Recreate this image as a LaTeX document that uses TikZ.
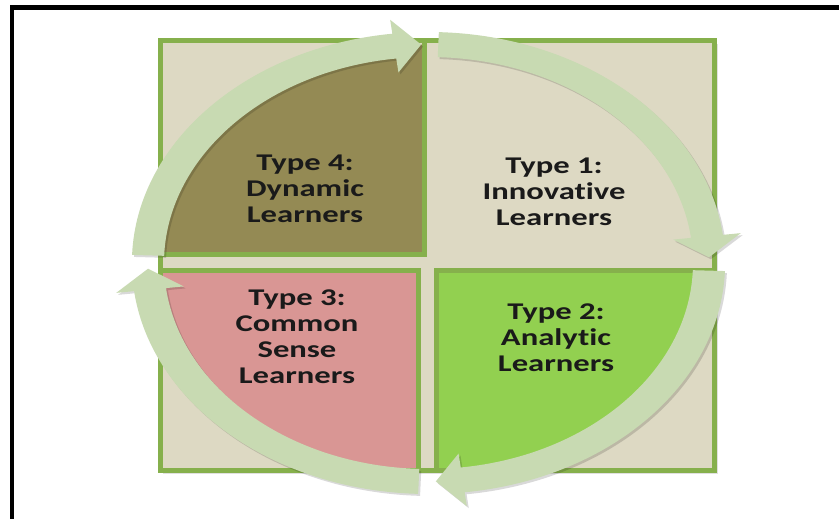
\documentclass[tikz,border=0pt]{standalone}
\usepackage{fontspec}
\setmainfont{Carlito}[Ligatures=NoCommon]
\definecolor{quadline}{HTML}{86B04C}
\definecolor{beigefill}{HTML}{DDD9C3}
\definecolor{olivefill}{HTML}{948A54}
\definecolor{pinkfill}{HTML}{D99694}
\definecolor{greenfill}{HTML}{92D050}
\definecolor{ringfill}{HTML}{C8DAB2}
\definecolor{textdark}{HTML}{1A1A1A}

\begin{document}
\begin{tikzpicture}[x=1pt, y=-1pt,
		quad/.style={draw=quadline, line width=5pt, line join=miter},
		ringarrow/.style={fill=ringfill},
		learner/.style={font=\bfseries\fontsize{24}{26}\selectfont, align=center, text=textdark, inner sep=0pt, xscale=1.36, transform shape}]
		\useasboundingbox (0, 0) rectangle (839, 519);
		\fill[white] (0, 0) rectangle (839, 519);
		\draw[line width=4.5pt] (12, 519) -- (12, 7.5) -- (839, 7.5);

		% frame and quadrants
		\fill[black, opacity=0.12] (163, 44) rectangle (718, 474);
		\fill[beigefill] (160, 41) rectangle (714, 470);
		\begin{scope}
			\clip (428.5, 263) ellipse [x radius=280.6, y radius=218.5];
			\fill[olivefill] (160, 41) rectangle (424, 254);
			\fill[pinkfill] (160, 270) rectangle (418, 470);
			\fill[greenfill] (436, 270) rectangle (714, 470);
		\end{scope}
		\draw[quad] (160, 41) rectangle (714, 470);
		\draw[quad] (160, 41) rectangle (424, 254);
		\draw[quad] (160, 270) rectangle (418, 470);
		\draw[quad] (436, 270) rectangle (714, 470);

		% cycle arrows
		\begin{scope}[shift={(428.5, 263)}, xscale=1.284, yscale=-1]
			\foreach \s in {180, 90, 0, -90} {
				\fill[black, opacity=0.15, shift={(1.5, -2)}] (\s-2:231) arc[start angle=\s-2, end angle=\s-83, radius=231]
					-- (\s-83:245) -- (\s-88.5:218.5) -- (\s-83:192)
					-- (\s-83:206) arc[start angle=\s-83, end angle=\s-2, radius=206] -- cycle;
				\fill[ringarrow] (\s-2:231) arc[start angle=\s-2, end angle=\s-83, radius=231]
					-- (\s-83:245) -- (\s-88.5:218.5) -- (\s-83:192)
					-- (\s-83:206) arc[start angle=\s-83, end angle=\s-2, radius=206] -- cycle;
			}
		\end{scope}

		\node[learner] at (305, 189) (type4) {Type 4:\\Dynamic\\Learners};
		\node[learner] at (554, 192) (type1) {Type 1:\\Innovative\\Learners};
		\node[learner] at (297, 337) (type3) {Type 3:\\Common\\Sense\\Learners};
		\node[learner] at (556, 338) (type2) {Type 2:\\Analytic\\Learners};
	\end{tikzpicture}
\end{document}
